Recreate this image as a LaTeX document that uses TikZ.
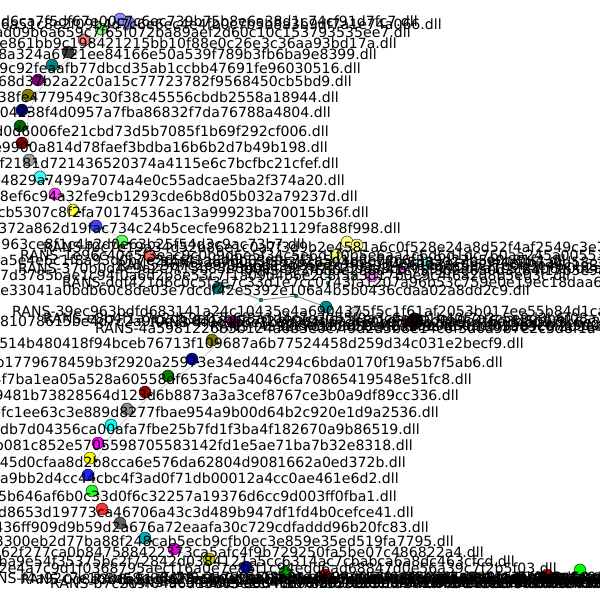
\documentclass[tikz,border=0pt]{standalone}
\usepackage{fontspec}
\setmainfont{DejaVu Sans}
\usetikzlibrary{backgrounds}
\newcommand\hxfont{\fontsize{14.1}{16}\selectfont}
\definecolor{cTa}{RGB}{140,140,255}
\definecolor{cTb}{RGB}{128,255,128}
\definecolor{cTc}{RGB}{255,128,128}
\definecolor{cTd}{RGB}{64,64,64}
\definecolor{cTe}{RGB}{0,128,128}
\definecolor{cTf}{RGB}{128,0,128}
\definecolor{cTg}{RGB}{128,128,0}
\definecolor{cTh}{RGB}{0,0,128}
\definecolor{cTi}{RGB}{0,100,0}
\definecolor{cTj}{RGB}{128,0,0}
\definecolor{cTk}{RGB}{160,160,160}
\definecolor{cTl}{RGB}{64,255,255}
\definecolor{cTm}{RGB}{255,64,255}
\definecolor{cTn}{RGB}{255,255,64}
\definecolor{cTo}{RGB}{64,64,255}
\definecolor{cTp}{RGB}{96,255,96}
\definecolor{cTq}{RGB}{255,96,96}
\definecolor{cBa}{RGB}{128,128,0}
\definecolor{cBb}{RGB}{0,0,160}
\definecolor{cBc}{RGB}{0,128,0}
\definecolor{cBd}{RGB}{160,0,0}
\definecolor{cBe}{RGB}{144,144,144}
\definecolor{cBf}{RGB}{0,255,255}
\definecolor{cBg}{RGB}{255,0,255}
\definecolor{cBh}{RGB}{255,255,0}
\definecolor{cBi}{RGB}{32,32,255}
\definecolor{cBj}{RGB}{32,255,32}
\definecolor{cBk}{RGB}{255,48,48}
\definecolor{cBl}{RGB}{96,96,96}
\definecolor{cBm}{RGB}{0,176,176}
\definecolor{cBn}{RGB}{224,0,224}
\definecolor{cBo}{RGB}{200,200,0}
\definecolor{cBp}{RGB}{0,0,208}
\definecolor{cBq}{RGB}{0,160,0}
\definecolor{cBr}{RGB}{192,0,0}
\definecolor{cBs}{RGB}{0,192,192}
\definecolor{cBt}{RGB}{192,0,192}
\definecolor{cBu}{RGB}{192,192,0}
\definecolor{cBv}{RGB}{0,0,144}
\definecolor{cBw}{RGB}{208,0,0}
\definecolor{cBx}{RGB}{0,255,0}
\definecolor{cYl}{RGB}{255,255,128}
\definecolor{cVi}{RGB}{255,128,255}
\definecolor{cCy}{RGB}{128,255,255}
\definecolor{cTl2}{RGB}{0,139,139}
\definecolor{cPu}{RGB}{160,0,160}
\definecolor{cLg}{RGB}{208,208,208}
\definecolor{cDk}{RGB}{48,0,0}
\begin{document}
\begin{tikzpicture}[x=1pt,y=-1pt,
  nd/.style={circle,draw=black,line width=0.4pt,minimum size=12pt,inner sep=0pt},
  ndsm/.style={circle,draw=black,line width=0.4pt,minimum size=8pt,inner sep=0pt},
  sm/.style={circle,fill=black,minimum size=3pt,inner sep=0pt},
  smt/.style={circle,fill=cTe,draw=black,line width=0.2pt,minimum size=4pt,inner sep=0pt},
  lb/.style={font=\hxfont,inner sep=0pt,anchor=base east,text=black},
  lw/.style={font=\hxfont,inner sep=0pt,anchor=base west,text=black},
  ed/.style={draw=black!22,line width=0.7pt},
  edd/.style={draw=black!50,line width=0.8pt}]
\useasboundingbox (0,0) rectangle (600,600);
% ---------- nodes of the upper arc ----------
\foreach \n/\x/\y/\c in {t1/120/19/cTa,t2/129/23/cTa,t3/101/29/cTb,t4/84/40/cTc,t5/68/52/cTd,
  t6/52/65/cTe,t7/38/80/cTf,t8/28/95/cTg,t9/22/110/cTh,t10/20/126/cTi,t11/22/143/cTj,
  t12/29/160/cTk,t13/40/177/cTl,t14/55/194/cTm,t15/73/210/cTn,t16/96/226/cTo,
  t17/122/241/cTp,t18/150/256/cTq}{
  \node[nd,fill=\c] (\n) at (\x,\y) {};
  \node[sm] (\n-d) at (\x+7,\y+2) {};
}
% ---------- nodes of the lower arc ----------
\foreach \n/\x/\y/\c in {b1/212/340/cBa,b2/192/359/cBb,b3/168/376/cBc,b4/145/392/cBd,
  b5/127/409/cBe,b6/111/425/cBf,b7/98/443/cBg,b8/90/458/cBh,b9/88/475/cBi,b10/92/491/cBj,
  b11/102/509/cBk,b12/120/523/cBl,b13/145/538/cBm,b14/174/549/cBn,b15/209/559/cBo,
  b16/246/567/cBp,b17/285/572/cBq,b18/325/575/cBr,b19/403/579/cBs,b20/442/580/cBt,
  b21/480/578/cBu,b22/518/579/cBv,b23/547/575/cBw,b24/580/570/cBx}{
  \node[nd,fill=\c] (\n) at (\x,\y) {};
  \node[sm] (\n-d) at (\x+6,\y+3) {};
}
% ---------- middle cluster ----------
\node[nd,fill=cYl] (y1) at (347,242) {};
\node[nd,fill=cYl] (y2) at (357,245) {};
\node[nd,fill=cYl] (y3) at (336,255) {};
\node[ndsm,fill=cYl] (y4) at (328,266) {};
\node[nd,fill=cVi] (v1) at (372,276) {};
\node[ndsm,fill=cVi] (v2) at (402,270) {};
\node[nd,fill=cCy] (cy) at (427,263) {};
\node[nd,fill=cTe] (tl1) at (218,288) {};
\node[nd,fill=cTl2] (tl2) at (326,307) {};
\node[smt] (s1) at (228,287) {};
\node[smt] (s2) at (261,300) {};
\node[smt] (s3) at (296,296) {};
\node[smt] (s4) at (328,283) {};
\node[nd,fill=cPu] (pu) at (233,322) {};
\node[nd,fill=cLg] (lg) at (355,313) {};
\node[nd,fill=cDk,minimum size=16pt] (dk) at (415,321) {};
% ---------- edges ----------
\begin{pgfonlayer}{background}
\fill[white] (0,0) rectangle (600,600);
\foreach \a/\b in {t2-d/t1-d,t1-d/t3-d,t3-d/t4-d,t4-d/t5-d,t5-d/t6-d,t6-d/t7-d,t7-d/t8-d,
  t8-d/t9-d,t9-d/t10-d,t10-d/t11-d,t11-d/t12-d,t12-d/t13-d,t13-d/t14-d,t14-d/t15-d,
  t15-d/t16-d,t16-d/t17-d,t17-d/t18-d,t18-d/s1,s2/b1-d,b1-d/b2-d,b2-d/b3-d,b3-d/b4-d,
  b4-d/b5-d,b5-d/b6-d,b6-d/b7-d,b7-d/b8-d,b8-d/b9-d,b9-d/b10-d,b10-d/b11-d,b11-d/b12-d,
  b12-d/b13-d,b13-d/b14-d,b14-d/b15-d,b15-d/b16-d,b16-d/b17-d,b17-d/b18-d,b18-d/b19-d,
  b19-d/b20-d,b20-d/b21-d,b21-d/b22-d,b22-d/b23-d,b23-d/b24-d}{
  \draw[ed] (\a) -- (\b);
}
\foreach \n in {t1,t2,t3,t4,t5,t6,t7,t8,t9,t10,t11,t12,t13,t14,t15,t16,t17,t18,
  b1,b2,b3,b4,b5,b6,b7,b8,b9,b10,b11,b12,b13,b14,b15,b16,b17,b18,b19,b20,b21,b22,b23,b24}{
  \draw[ed] (\n) -- (\n-d);
}
\draw[edd] (tl1) -- (s1) -- (s2) -- (s3) -- (tl2);
\end{pgfonlayer}
% ---------- labels of the upper arc ----------
\node[lb] (l1a) at (418,26) {0b3e9d12f44c28e51d6ca7f5df67e00c7c6ec739b75b8e6a38d1c74cf91d7fc7.dll};
\node[lb] (l1b) at (442,29) {3f1a8c2d9e04b7d6a51c8e2f09b4d7c6e6ec4e4fb0c7b5b8a3b9df7a1e74a066.dll};
\node[lb] (l2) at (411,37) {5c2e81a4f7b03d96e1ad09b6a659c7f65f072ba89aef2d60c10c153793535ee7.dll};
\node[lb] (l3) at (397,48) {9a04c7e2b15d8f36a0e4ce861bb9c198421215bb10f88e0c26e3c36aa93bd17a.dll};
\node[lb] (l4) at (377,59) {c71e4d02b9f6a583e0d7c148a324a6721ee84166e50a539f789b3fb6ba9e8399.dll};
\node[lb] (l5) at (361,73) {e4b1d7a03c58f9e26d1b0a7c9c92feaafb77dbcd35ab1ccbb47691fe96030516.dll};
\node[lb] (l6) at (352,86) {b0e5a91f3c7d24e86a0f1c9d3b68d37b2a22c0a15c77723782f9568450cb5bd9.dll};
\node[lb] (l7) at (339,102) {d2a7c06e4b91f5d83a2e0c7b61f38fe4779549c30f38c45556cbdb2558a18944.dll};
\node[lb] (l8) at (331,117) {71c9e5a0b3d62f84e1a97c0d5b3e04238f4d0957a7fba86832f7da76788a4804.dll};
\node[lb] (l9) at (329,136) {a93e1f07c5b28d4e6a1f9c03b7ed0d6006fe21cbd73d5b7085f1b69f292cf006.dll};
\node[lb] (l10) at (328,152) {5f2c8a0e71d4b96c3a08e5f1d27be9900a814d78faef3bdba16b6b2d7b49b198.dll};
\node[lb] (l11) at (339,168) {e07b4d9a1c63f82e5b0a4d7c91f2181d721436520374a4115e6c7bcfbc21cfef.dll};
\node[lb] (l12) at (345,185) {3c9a1e7f05b2d84c6e0a9f3b1de4829a7499a7074a4e0c55adcae5ba2f374a20.dll};
\node[lb] (l13) at (358,201) {b51e09c7a4f28d3e6b0c91a7d8ef6c94a32fe9cb1293cde6b8d05b032a79237d.dll};
\node[lb] (l14) at (369,217) {f7a20d4e9b1c58e3a06d2f1cb5307c8f2fa70174536ac13a99923ba70015b36f.dll};
\node[lb] (l15) at (401,233) {0c4e8b1a7d93f25e6a1372a862d19fac734c24b5cecfe9682b211129fa88f998.dll};
% ---------- labels of the middle cluster ----------
\node[lb] (ma) at (305,249) {c5a0e8f3b16d98b1e4f7a0c93d6e25a963ce8f1c4b2d0e63b25f54d3c9ac73b7.dll};
\node[lw] (mb) at (43,252) {RANS-f0c7e19a34d52b86e1c0a7f3d9b2e4581a6c0f528e24a8d52f4af2549c3e7d0b};
\node[lw] (mc) at (20,260) {RANS-1e96c40e5f3eac9c0b9d6e5f34c5e6d1f0b5e6aa1c6d6d1dc760aa245a00553e};
\node[lw] (md) at (0,265) {a5e4e6c1f8a93d0b7e2c5f41a8d6b03e9c7f2a5d1b8e04c6f3a9d27b5e0c81f4.dll};
\node[lw] (mk) at (160,267) {RANS-2a7d0c5f8e3b16a94d2c7f0e5b8a31d6c9f4e2b7a0d58c3e1f6b9a4d7c02e5f8};
\node[lw] (mf) at (117,270) {RANS-3b7c2e9f04a6d13b85e2c7f0a9d4b61e38c5a2f7d0b9e46c1a3f85d2e7b0c94};
\node[lw] (me) at (18,273) {RANS-370b0d4e9a2c7f15b83e6d0a4c9f2b7e15d8a3c6f0b9e42d7a1c5f83b6e0d2a9};
\node[lw] (mj) at (240,275) {RANS-9c3f6b0e2a8d41c75f9b2e6a0d3c84f17b5e9a2c6d0f38b4e1a7c5d92f0b6e83};
\node[lw] (mg) at (0,280) {7d3785bae1c94f0a6d2b8e53c7f1a09d4b6e2c8f5a3d17b0e9c4f6a2d8b5e03c.dll};
\node[lw] (mh) at (62,287) {RANS-ddf421d6c0c5f3e7c33d1e7cc0743fa1207a96b53c759e0e19ec18daa6b04c2d};
\node[lb] (l23) at (530,295) {4d91b7e33041a0bdb60c8de03e7dcdf42e5392e106a4b5b0436cdaa02a8dd2c9.dll};
% ---------- labels of the lower cluster ----------
\node[lw] (na) at (12,316) {RANS-39ec963bdfd683141a24c10435e4a6904375f5c1f61af2053b017ee55b84d1ca};
\node[lw] (nc) at (43,323) {RANS-e8b4f1a7c2d59e03b6f8a1d4c7e20b5f9a3c6e8d1b40f7a2c5e9d3b6f08a1c4d};
\node[lw] (nb) at (0,326) {81078615be4d7c2a9f0e3b6d18a5c7f2e09b4d6a3c8f1e5b72d0a9c4f6e3b8d1.dll};
\node[lw] (ne) at (150,327) {RANS-4f0c9a6e3b8d25f1a7c4e0b9d36a2f8c5e1b7d4a09f3c6e2b8d5a1f7c40e9b3a};
\node[lw] (ng) at (280,330) {0d8e3b6a91c4f27e5b0a8d3c6f19e42b7a5d0c8e3f61b94a2e7d5c0b8f3a6e19.dll};
\node[lw] (nf) at (210,331) {RANS-f4a92c7e1b3d58e06a2f9c4b7d1e03a85c6f2b9e4d7a10c3e8b5f62d9a4c7e13};
\node[lw] (nd) at (95,333) {RANS-4a5981226b5b124a6b3e0c7f9d2a5b8e14c6f3d0a9b7e2c5d8f1a4b6e93c07d2};
% ---------- labels of the lower arc ----------
\node[lb] (l26) at (524,348) {8e2f0c514b480418f94bceb76713f109687a6b77524458d259d34c031e2becf9.dll};
\node[lb] (l27) at (503,367) {c3a0e7d4b1779678459b3f2920a25973e34ed44c294c6bda0170f19a5b7f5ab6.dll};
\node[lb] (l28) at (472,384) {2d9b6e1f0a4f7ba1ea05a528a60558df653fac5a4046cfa70865419548e51fc8.dll};
\node[lb] (l29) at (459,400) {a5c0e83f1d7b29481b73828564d123d6b8873a3a3cef8767ce3b0a9df89cc336.dll};
\node[lb] (l30) at (439,417) {7e04b9a2d6c81f3efc1ee63c3e889d8277fbae954a9b00d64b2c920e1d9a2536.dll};
\node[lb] (l31) at (420,434) {1f8c3a7e05d2b94e6db7d04356ca00afa7fbe25b7fd1f3ba4f182670a9b86519.dll};
\node[lb] (l32) at (413,450) {9d4e2a0c7b13f86e5a3b081c852e5705598705583142fd1e5ae71ba7b32e8318.dll};
\node[lb] (l33) at (406,467) {e6b3f19a0c4d72e8b15a45d0cfaa8d2b8cca6e576da62804d9081662a0ed372b.dll};
\node[lb] (l34) at (399,483) {07d2e5b8c1f9a36e04b7a9bb2d4cc44cbc4f3ad0f71db00012a4cc0ae461e6d2.dll};
\node[lb] (l35) at (397,501) {c8a1e4f07d3b92a6e5d5b646af6b0c33d0f6c32257a19376d6cc9d003ff0fba1.dll};
\node[lb] (l36) at (414,517) {4b0e7a2c9f15d83e6ad8653d19773ca46706a43c3d489b947df1fd4b0cefce41.dll};
\node[lb] (l37) at (429,532) {a19c5e0f3b7d28e436ff909d9b59d2a676a72eaafa30c729cdfaddd96b20fc83.dll};
\node[lb] (l38) at (454,546) {e72d0b4a9c1f63300eb2d77ba88f248cab5ecb9cfb0ec3e859e35ed519fa7795.dll};
\node[lb] (l39) at (484,557) {5d8e1b3f0a62f277ca0b847588422373ca5afc4f9b729250fa5be07c486822a4.dll};
\node[lb] (l40) at (515,566) {3c07e1ba9e54f35375bc2f72842d0384121a5cc6314ac7cbabca6a8dc463cfcd.dll};
\node[lb] (l41) at (557,573) {b2e4a7c9d1f0368795aecf16a0e7e86f1c94edd6ad68847d0e56a39c7f2b5f03.dll};
% ---------- bottom band ----------
\node[lw] (q2) at (-22,583) {RANS-f4a92c7e1b3d58e06a2f9c4b7d1e03a85c6f2b9e4d7a10c3e8b5f62d9a4c7e13};
\node[lw] (q3) at (20,584) {RANS-0d8e3b6a91c4f27e5b0a8d3c6f19e42b7a5d0c8e3f61b94a2e7d5c0b8f3a6e19};
\node[lw] (q4) at (50,588) {RANS-b7c2e9f04a6d13b85e2c7f0a9d4b61e38c5a2f7d0b9e46c1a3f85d2e7b0c946a};
\node[lw] (q5) at (93,584) {RANS-5e1a8f3c0b7d29e64a1c8f5b3e0d97a26c4f1b8e5d3a0c79f2b6e4d1a8c53f0b};
\node[lw] (q6) at (125,587) {RANS-9c3f6b0e2a8d41c75f9b2e6a0d3c84f17b5e9a2c6d0f38b4e1a7c5d92f0b6e83};
\node[lw] (q7) at (160,582) {RANS-2a7d0c5f8e3b16a94d2c7f0e5b8a31d6c9f4e2b7a0d58c3e1f6b9a4d7c02e5f8};
\node[lw] (q8) at (200,588) {RANS-e8b4f1a7c2d59e03b6f8a1d4c7e20b5f9a3c6e8d1b40f7a2c5e9d3b6f08a1c4d};
\node[lw] (q9) at (245,584) {RANS-4f0c9a6e3b8d25f1a7c4e0b9d36a2f8c5e1b7d4a09f3c6e2b8d5a1f7c40e9b3a};
\node[lw] (q10) at (290,587) {RANS-b7c2e9f04a6d13b85e2c7f0a9d4b61e38c5a2f7d0b9e46c1a3f85d2e7b0c946a};
\node[lw] (q11) at (340,582) {RANS-9c3f6b0e2a8d41c75f9b2e6a0d3c84f17b5e9a2c6d0f38b4e1a7c5d92f0b6e83};
\node[lw] (q12) at (390,587) {RANS-0d8e3b6a91c4f27e5b0a8d3c6f19e42b7a5d0c8e3f61b94a2e7d5c0b8f3a6e19};
\node[lw] (q13) at (440,584) {RANS-5e1a8f3c0b7d29e64a1c8f5b3e0d97a26c4f1b8e5d3a0c79f2b6e4d1a8c53f0b};
\node[lw] (q14) at (490,587) {RANS-2a7d0c5f8e3b16a94d2c7f0e5b8a31d6c9f4e2b7a0d58c3e1f6b9a4d7c02e5f8};
\node[lw] (q15) at (540,583) {RANS-4f0c9a6e3b8d25f1a7c4e0b9d36a2f8c5e1b7d4a09f3c6e2b8d5a1f7c40e9b3a};
\end{tikzpicture}
\end{document}
